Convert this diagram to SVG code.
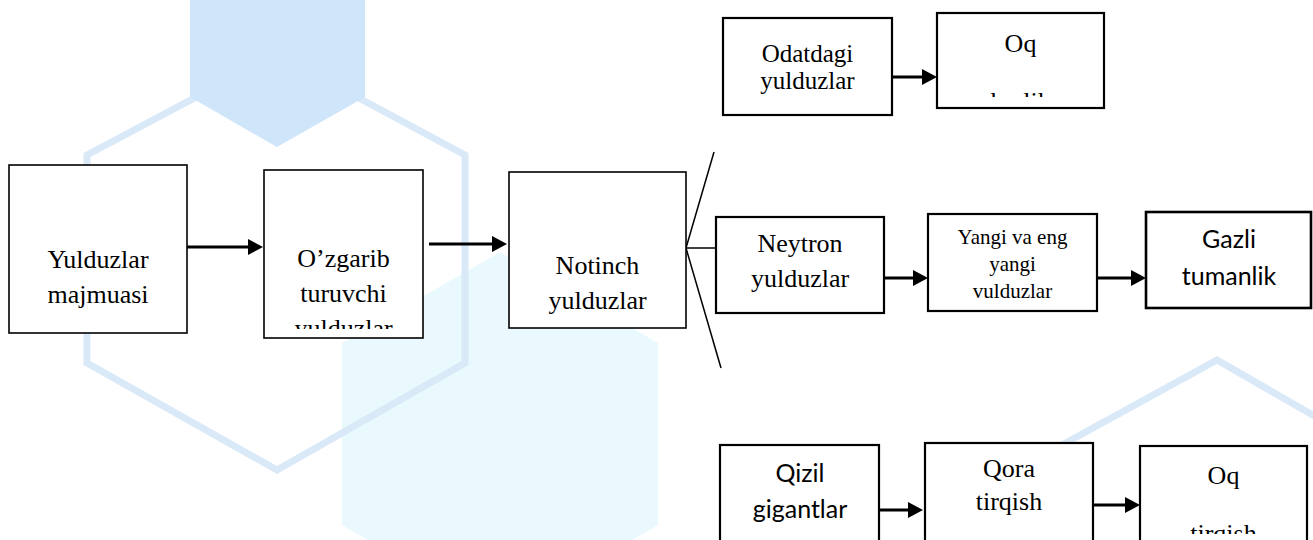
<svg xmlns="http://www.w3.org/2000/svg" width="1313" height="540" viewBox="0 0 1313 540">
<style>
.box{fill:#fff;stroke:#000;stroke-width:1.6}
.b2{stroke-width:2.2}
.t{font-family:"Liberation Serif","Times New Roman",serif;font-size:26px;fill:#000;text-anchor:middle}
.t21{font-size:21px}
.t25{font-size:25px}
.s{font-family:Lato,"Liberation Sans",sans-serif;font-size:25px;fill:#000;text-anchor:middle}
.arr{stroke:#000;stroke-width:3;fill:none;marker-end:url(#ah)}
.fan{stroke:#000;stroke-width:1.5;fill:none}
.wm{fill:none;stroke:#d9e9f8;stroke-width:7;stroke-linejoin:miter}
</style>
<defs>
<marker id="ah" markerUnits="userSpaceOnUse" markerWidth="16" markerHeight="16" refX="7" refY="8" orient="auto"><path d="M0,0 L15,8 L0,16 z" fill="#000"/></marker>
<clipPath id="c2"><rect x="264" y="170" width="159" height="159"/></clipPath>
<clipPath id="c5"><rect x="937" y="13" width="167" height="84"/></clipPath>
<clipPath id="c11"><rect x="1140" y="446" width="167" height="88"/></clipPath>
</defs>
<rect x="0" y="0" width="1313" height="540" fill="#fff"/>
<g id="watermark">
<polygon points="500,252 658,343 658,525 500,616 342,525 342,343" fill="#e9f9fd"/>
<polygon class="wm" points="277,54 465,155 465,363 277,470 87,363 87,155"/>
<polygon points="277,-55 365,-4 365,97 277,147 190,97 190,-4" fill="#cfe5fa"/>
<polyline class="wm" points="1020,468 1217,360 1330,425"/>
</g>
<g id="connectors">
<line class="arr" x1="187" y1="247" x2="255" y2="247"/>
<line class="arr" x1="429" y1="244" x2="499" y2="244"/>
<line class="fan" x1="686" y1="248" x2="714" y2="152"/>
<line class="fan" x1="686" y1="248" x2="716" y2="248"/>
<line class="fan" x1="686" y1="248" x2="721" y2="368"/>
<line class="arr" x1="892" y1="77" x2="929" y2="77"/>
<line class="arr" x1="884" y1="278" x2="920" y2="278"/>
<line class="arr" x1="1097" y1="278" x2="1138" y2="278"/>
<line class="arr" x1="879" y1="510" x2="915" y2="510"/>
<line class="arr" x1="1093" y1="505" x2="1132" y2="505"/>
</g>
<g id="n1"><rect class="box" x="9" y="165" width="178" height="168"/>
<text class="t" x="98" y="268">Yulduzlar</text><text class="t" x="98" y="303">majmuasi</text></g>
<g id="n2"><rect class="box" x="264" y="170" width="159" height="168"/>
<g clip-path="url(#c2)"><text class="t" x="343.5" y="267">O’zgarib</text><text class="t" x="343.5" y="302">turuvchi</text><text class="t" x="343.5" y="337">yulduzlar</text></g></g>
<g id="n3"><rect class="box" x="509" y="172" width="177" height="156"/>
<text class="t" x="597.5" y="274">Notinch</text><text class="t" x="597.5" y="309">yulduzlar</text></g>
<g id="n4"><rect class="box b2" x="723" y="18" width="169" height="97"/>
<text class="t t25" x="807.5" y="62">Odatdagi</text><text class="t t25" x="807.5" y="89">yulduzlar</text></g>
<g id="n5"><rect class="box b2" x="937" y="13" width="167" height="95"/>
<g clip-path="url(#c5)"><text class="t" x="1020.5" y="52">Oq</text><text class="t" x="1020.5" y="110">karlik</text></g></g>
<g id="n6"><rect class="box b2" x="716" y="217" width="168" height="96"/>
<text class="t" x="800" y="252">Neytron</text><text class="t" x="800" y="287">yulduzlar</text></g>
<g id="n7"><rect class="box b2" x="928" y="214" width="169" height="97"/>
<text class="t t21" x="1012.5" y="244">Yangi va eng</text><text class="t t21" x="1012.5" y="271">yangi</text><text class="t t21" x="1012.5" y="298">vulduzlar</text></g>
<g id="n8"><rect class="box" style="stroke-width:2.6" x="1146" y="212" width="165" height="96"/>
<text class="s" x="1229" y="248">Gazli</text><text class="s" x="1229" y="285">tumanlik</text></g>
<g id="n9"><rect class="box b2" x="720" y="445" width="159" height="100"/>
<text class="s" x="800" y="482">Qizil</text><text class="s" x="800" y="518">gigantlar</text></g>
<g id="n10"><rect class="box b2" x="925" y="443" width="168" height="102"/>
<text class="t" x="1009" y="477">Qora</text><text class="t" x="1009" y="510">tirqish</text></g>
<g id="n11"><rect class="box b2" x="1140" y="446" width="167" height="100"/>
<g clip-path="url(#c11)"><text class="t" x="1223.5" y="484">Oq</text><text class="t" x="1223.5" y="542">tirqish</text></g></g>
</svg>
